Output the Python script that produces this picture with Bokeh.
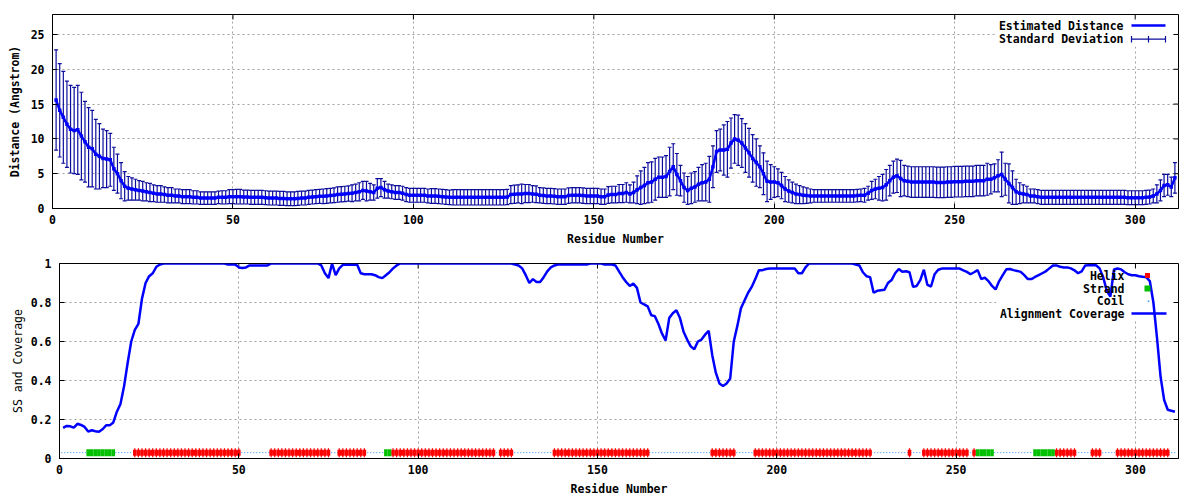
from bokeh.plotting import figure
from bokeh.models import Range1d, FixedTicker, Label, BoxAnnotation
from bokeh.embed import file_html
from bokeh.resources import INLINE

# ---------------- data ----------------
residues = list(range(1, 312))

distance = [
    15.6, 14.1, 13.1, 12.1, 11.4, 11.2, 11.3, 10.4, 9.6, 8.8,
    8.6, 7.8, 7.5, 7.2, 7.1, 7.0, 5.7, 5.0, 4.0, 3.2,
    2.9, 2.8, 2.7, 2.6, 2.5, 2.4, 2.3, 2.2, 2.1, 2.1,
    2.0, 1.9, 1.9, 1.8, 1.8, 1.7, 1.7, 1.7, 1.6, 1.6,
    1.5, 1.5, 1.5, 1.5, 1.5, 1.6, 1.6, 1.6, 1.7, 1.7,
    1.7, 1.7, 1.65, 1.65, 1.6, 1.6, 1.6, 1.6, 1.55, 1.5,
    1.5, 1.5, 1.45, 1.45, 1.4, 1.4, 1.4, 1.45, 1.5, 1.5,
    1.6, 1.65, 1.7, 1.75, 1.75, 1.8, 1.85, 1.9, 2.0, 2.05,
    2.1, 2.15, 2.2, 2.3, 2.4, 2.6, 2.5, 2.4, 2.3, 2.9,
    3.0, 2.7, 2.5, 2.4, 2.3, 2.3, 2.2, 2.0, 1.9, 1.9,
    1.9, 1.9, 1.9, 1.8, 1.8, 1.8, 1.75, 1.7, 1.65, 1.6,
    1.6, 1.6, 1.6, 1.6, 1.6, 1.6, 1.6, 1.6, 1.6, 1.6,
    1.6, 1.6, 1.6, 1.6, 1.6, 1.65, 2.0, 2.05, 2.1, 2.1,
    2.15, 2.15, 2.1, 2.05, 1.9, 1.85, 1.8, 1.8, 1.75, 1.7,
    1.7, 1.7, 1.85, 1.9, 1.9, 1.9, 1.85, 1.8, 1.8, 1.8,
    1.8, 1.7, 1.7, 1.95, 2.0, 2.0, 2.15, 2.15, 2.3, 2.1,
    2.3, 2.7, 3.0, 3.3, 3.7, 3.8, 4.2, 4.5, 4.5, 4.6,
    5.3, 6.0, 4.9, 4.0, 3.0, 2.6, 2.9, 3.1, 3.5, 3.7,
    3.8, 4.2, 6.0, 8.2, 8.4, 8.4, 8.5, 9.4, 10.0, 9.8,
    9.4, 8.7, 8.0, 7.2, 6.6, 6.0, 5.0, 3.9, 3.8, 3.8,
    3.7, 3.3, 2.8, 2.5, 2.3, 2.1, 2.0, 1.9, 1.85, 1.8,
    1.8, 1.8, 1.8, 1.8, 1.8, 1.8, 1.8, 1.8, 1.8, 1.8,
    1.8, 1.8, 1.85, 1.9, 1.9, 2.2, 2.6, 2.8, 2.9, 3.0,
    3.4, 4.0, 4.5, 4.7, 4.3, 4.0, 3.9, 3.8, 3.8, 3.8,
    3.8, 3.8, 3.8, 3.8, 3.75, 3.75, 3.75, 3.8, 3.8, 3.85,
    3.85, 3.85, 3.9, 3.9, 3.9, 4.0, 4.0, 4.0, 4.2, 4.2,
    4.4, 4.7, 4.9, 4.2, 3.6, 3.0, 2.4, 2.2, 2.1, 2.0,
    1.8, 1.8, 1.7, 1.6, 1.6, 1.6, 1.6, 1.6, 1.6, 1.6,
    1.6, 1.6, 1.6, 1.6, 1.6, 1.6, 1.6, 1.6, 1.6, 1.6,
    1.6, 1.6, 1.6, 1.6, 1.6, 1.6, 1.6, 1.55, 1.55, 1.55,
    1.55, 1.55, 1.6, 1.65, 1.8, 2.1, 2.6, 3.3, 3.4, 3.1, 4.4,
]

std_dev = [
    7.2, 6.7, 6.6, 6.2, 6.3, 6.2, 6.4, 6.3, 5.8, 5.7,
    5.5, 5.0, 4.7, 4.2, 4.1, 3.8, 3.1, 2.8, 2.6, 2.1,
    1.7, 1.6, 1.5, 1.4, 1.4, 1.3, 1.3, 1.2, 1.2, 1.2,
    1.1, 1.1, 1.1, 1.0, 1.0, 1.0, 1.0, 1.0, 0.95, 0.95,
    0.9, 0.9, 0.9, 0.9, 0.9, 0.9, 0.95, 0.95, 1.0, 1.0,
    1.05, 1.05, 1.0, 1.0, 1.0, 1.0, 1.0, 1.0, 1.0, 1.0,
    1.0, 1.0, 1.0, 1.0, 1.0, 1.0, 1.0, 1.0, 1.0, 1.0,
    1.0, 1.0, 1.0, 1.0, 1.05, 1.05, 1.05, 1.05, 1.1, 1.1,
    1.1, 1.1, 1.2, 1.2, 1.3, 1.3, 1.4, 1.2, 1.1, 1.4,
    1.3, 1.2, 1.0, 1.0, 1.0, 1.0, 1.0, 1.0, 1.0, 1.0,
    1.0, 1.0, 1.0, 1.0, 1.05, 1.05, 1.05, 1.05, 1.05, 1.05,
    1.1, 1.1, 1.1, 1.1, 1.1, 1.1, 1.1, 1.1, 1.1, 1.1,
    1.1, 1.1, 1.1, 1.1, 1.1, 1.1, 1.3, 1.3, 1.3, 1.4,
    1.3, 1.3, 1.2, 1.2, 1.1, 1.1, 1.1, 1.1, 1.1, 1.1,
    1.1, 1.1, 1.1, 1.1, 1.1, 1.1, 1.1, 1.1, 1.1, 1.1,
    1.1, 1.1, 1.1, 1.2, 1.2, 1.2, 1.3, 1.3, 1.4, 1.3,
    1.5, 2.0, 2.4, 2.6, 2.9, 2.9, 3.0, 2.9, 2.9, 3.0,
    3.5, 3.3, 3.0, 2.2, 2.1, 2.0, 2.2, 2.2, 2.4, 2.6,
    2.7, 3.3, 3.0, 3.0, 3.0, 3.6, 4.0, 3.6, 3.5, 3.6,
    3.5, 3.5, 3.5, 3.4, 3.4, 3.0, 3.0, 2.9, 2.5, 2.2,
    2.0, 1.9, 1.8, 1.6, 1.5, 1.4, 1.3, 1.2, 1.1, 1.0,
    0.9, 0.9, 0.9, 0.9, 0.9, 0.9, 0.9, 0.9, 0.9, 0.9,
    0.9, 0.9, 0.9, 0.9, 1.0, 1.0, 1.3, 1.4, 1.7, 1.9,
    2.2, 2.2, 2.3, 2.4, 2.6, 2.2, 2.2, 2.2, 2.2, 2.2,
    2.2, 2.2, 2.2, 2.2, 2.2, 2.2, 2.2, 2.2, 2.2, 2.2,
    2.2, 2.2, 2.2, 2.2, 2.2, 2.2, 2.2, 2.2, 2.3, 2.1,
    2.0, 2.3, 3.2, 2.3, 2.8, 2.4, 1.8, 1.5, 1.3, 1.2,
    1.0, 1.0, 1.0, 1.0, 1.0, 1.0, 1.0, 1.0, 1.0, 1.0,
    1.0, 1.0, 1.0, 1.0, 1.0, 1.0, 1.0, 1.0, 1.0, 1.0,
    1.0, 1.0, 1.0, 1.0, 1.0, 1.0, 1.0, 1.0, 1.0, 1.0,
    1.0, 1.0, 1.0, 1.0, 1.0, 1.3, 1.5, 1.6, 1.5, 1.4, 2.2,
]

coverage = [
    0.157, 0.167, 0.165, 0.158, 0.178, 0.172, 0.162, 0.138, 0.145, 0.140,
    0.137, 0.150, 0.170, 0.170, 0.185, 0.240, 0.280, 0.370, 0.490, 0.600,
    0.660, 0.690, 0.820, 0.900, 0.935, 0.950, 0.983, 0.995, 1.0, 1.0,
    1.0, 1.0, 1.0, 1.0, 1.0, 1.0, 1.0, 1.0, 1.0, 1.0,
    1.0, 1.0, 1.0, 1.0, 1.0, 1.0, 0.995, 0.995, 0.995, 0.980,
    0.977, 0.980, 0.990, 0.990, 0.990, 0.990, 0.990, 0.990, 1.0, 1.0,
    1.0, 1.0, 1.0, 1.0, 1.0, 1.0, 1.0, 1.0, 1.0, 1.0,
    1.0, 1.0, 0.990, 0.950, 0.925, 1.0, 0.940, 0.975, 0.993, 0.993,
    0.993, 0.993, 0.993, 0.950, 0.945, 0.945, 0.945, 0.940, 0.930, 0.925,
    0.940, 0.955, 0.975, 0.990, 1.0, 1.0, 1.0, 1.0, 1.0, 1.0,
    1.0, 1.0, 1.0, 1.0, 1.0, 1.0, 1.0, 1.0, 1.0, 1.0,
    1.0, 1.0, 1.0, 1.0, 1.0, 1.0, 1.0, 1.0, 1.0, 1.0,
    1.0, 1.0, 1.0, 1.0, 1.0, 1.0, 0.995, 0.990, 0.975, 0.940,
    0.900, 0.920, 0.905, 0.905, 0.930, 0.960, 0.980, 0.990, 0.995, 0.995,
    0.995, 0.995, 0.995, 0.995, 0.995, 0.995, 0.995, 1.0, 1.0, 1.0,
    1.0, 0.995, 0.995, 0.995, 0.990, 0.960, 0.930, 0.905, 0.885, 0.897,
    0.875, 0.800, 0.790, 0.780, 0.735, 0.730, 0.690, 0.640, 0.605, 0.720,
    0.745, 0.760, 0.720, 0.650, 0.610, 0.575, 0.560, 0.600, 0.610, 0.635,
    0.655, 0.530, 0.440, 0.385, 0.372, 0.385, 0.410, 0.600, 0.680, 0.770,
    0.810, 0.850, 0.880, 0.920, 0.965, 0.966, 0.972, 0.974, 0.974, 0.974,
    0.974, 0.974, 0.974, 0.974, 0.974, 0.950, 0.950, 0.980, 1.0, 1.0,
    1.0, 1.0, 1.0, 1.0, 1.0, 1.0, 1.0, 1.0, 1.0, 1.0,
    1.0, 0.995, 0.990, 0.955, 0.935, 0.930, 0.850, 0.860, 0.863, 0.865,
    0.900, 0.915, 0.950, 0.972, 0.958, 0.960, 0.955, 0.880, 0.885, 0.915,
    0.968, 0.890, 0.882, 0.945, 0.968, 0.974, 0.974, 0.974, 0.974, 0.974,
    0.974, 0.965, 0.957, 0.945, 0.955, 0.966, 0.920, 0.928, 0.910, 0.885,
    0.867, 0.910, 0.940, 0.970, 0.972, 0.966, 0.962, 0.957, 0.940, 0.920,
    0.920, 0.931, 0.940, 0.950, 0.960, 0.975, 0.990, 0.990, 0.983, 0.980,
    0.980, 0.975, 0.965, 0.950, 0.960, 0.990, 0.991, 0.991, 0.991, 0.975,
    0.930, 0.860, 0.830, 0.969, 0.974, 0.970, 0.955, 0.945, 0.940, 0.940,
    0.935, 0.932, 0.930, 0.910, 0.800, 0.620, 0.420, 0.300, 0.250, 0.245, 0.240,
]

# secondary structure as runs: (type, length); H helix, E strand, C coil
ss_runs = [
    ("C", 7), ("E", 8), ("C", 5), ("H", 30), ("C", 8), ("H", 17), ("C", 2),
    ("H", 8), ("C", 5), ("E", 2), ("H", 29), ("C", 1), ("H", 4), ("C", 11),
    ("H", 27), ("C", 17), ("H", 7), ("C", 5), ("H", 33), ("C", 10), ("H", 1),
    ("C", 3), ("H", 13), ("C", 1), ("H", 1), ("E", 5), ("C", 11), ("E", 6),
    ("H", 6), ("C", 4), ("H", 3), ("C", 4), ("H", 15), ("C", 2),
]
ss_level = 0.03

x_ticks = [0, 50, 100, 150, 200, 250, 300]
dist_ticks = [0, 5, 10, 15, 20, 25]
cov_ticks = [0, 0.2, 0.4, 0.6, 0.8, 1]
cov_tick_labels = ["0", "0.2", "0.4", "0.6", "0.8", "1"]
x_max = 312
dist_max = 27.87

# ---------------- style ----------------
FONT = "DejaVu Sans Mono"
FS = "11.5px"
ERR = "#0c0c9c"
BLUE = "#0000ff"
GRID = "#a0a0a0"
W = 1200
TICK = 5


def make_fig(height, left, top, bottom, y_range, yticks, ylabel, ylabel_style, ylab_standoff,
             fw, fh, ymax, overrides=None):
    p = figure(width=W, height=height, x_range=Range1d(0, x_max), y_range=y_range,
               output_backend="svg", toolbar_location=None,
               min_border_left=left, min_border_right=22,
               min_border_top=top, min_border_bottom=bottom)
    p.background_fill_color = "white"
    p.border_fill_color = "white"
    p.outline_line_color = "black"
    p.outline_line_width = 1
    p.outline_line_alpha = 1
    xa = p.xaxis[0]
    ya = p.yaxis[0]
    xa.ticker = FixedTicker(ticks=x_ticks)
    ya.ticker = FixedTicker(ticks=yticks)
    for ax in (xa, ya):
        ax.major_tick_in = TICK
        ax.major_tick_out = 0
        ax.minor_tick_line_color = None
        ax.major_tick_line_color = "black"
        ax.axis_line_color = "black"
        ax.major_label_text_font = FONT
        ax.major_label_text_font_size = FS
        ax.major_label_text_font_style = "bold"
        ax.major_label_text_color = "black"
    xa.major_label_standoff = 6
    xa.axis_label = "Residue Number"
    xa.axis_label_standoff = 5
    ya.major_label_standoff = 8
    ya.axis_label = ylabel
    ya.axis_label_standoff = ylab_standoff
    if overrides:
        ya.major_label_overrides = overrides
    for ax, style in ((xa, "bold"), (ya, ylabel_style)):
        ax.axis_label_text_font = FONT
        ax.axis_label_text_font_size = FS
        ax.axis_label_text_font_style = style
        ax.axis_label_text_color = "black"
    p.xgrid.ticker = FixedTicker(ticks=x_ticks)
    p.ygrid.ticker = FixedTicker(ticks=yticks)
    for g in (p.xgrid, p.ygrid):
        g.grid_line_color = GRID
        g.grid_line_dash = "2 3"
        g.grid_line_width = 1
    # mirrored inward ticks on the top and right frame edges
    dy = TICK / fh * (ymax - y_range.start)
    dx = TICK / fw * x_max
    p.segment(x0=x_ticks, y0=[ymax] * len(x_ticks), x1=x_ticks, y1=[ymax - dy] * len(x_ticks),
              line_color="black", line_width=1)
    p.segment(x0=[x_max] * len(yticks), y0=yticks, x1=[x_max - dx] * len(yticks), y1=yticks,
              line_color="black", line_width=1)
    return p


def label(p, x, y, text):
    p.add_layout(Label(x=x, y=y, text=text, text_align="right", text_baseline="middle",
                       text_font=FONT, text_font_size=FS, text_font_style="bold",
                       text_color="black"))


# ---------------- top: distance ----------------
TFW, TFH = 1126, 194
p1 = make_fig(250, 52, 14, 42, Range1d(0, dist_max), dist_ticks, "Distance (Angstrom)", "bold", 6,
              TFW, TFH, dist_max)


def tx(px):
    return px / TFW * x_max


def ty(py):
    return dist_max - py / TFH * dist_max


# legend background (hides grid lines like the original key box)
p1.add_layout(BoxAnnotation(left=tx(943), right=tx(1121), top=ty(2), bottom=ty(32),
                            fill_color="white", fill_alpha=1, line_color=None, level="underlay"))

lower = [d - s for d, s in zip(distance, std_dev)]
upper = [d + s for d, s in zip(distance, std_dev)]
cap = 0.55
p1.segment(x0=residues, y0=lower, x1=residues, y1=upper, line_color=ERR, line_width=1.2)
p1.segment(x0=[r - cap for r in residues], y0=upper, x1=[r + cap for r in residues], y1=upper,
           line_color=ERR, line_width=1.2)
p1.segment(x0=[r - cap for r in residues], y0=lower, x1=[r + cap for r in residues], y1=lower,
           line_color=ERR, line_width=1.2)
p1.line(residues, distance, line_color=BLUE, line_width=2.5)
p1.scatter(residues, distance, marker="square", size=3.5, fill_color=BLUE, line_color=None)

# legend (text left, sample right, as in the original)
label(p1, tx(1071), ty(11), "Estimated Distance")
p1.line([tx(1079), tx(1113)], [ty(11), ty(11)], line_color=BLUE, line_width=2.5)
label(p1, tx(1071), ty(24.7), "Standard Deviation")
p1.line([tx(1079), tx(1113)], [ty(24.7), ty(24.7)], line_color=ERR, line_width=1.2)
p1.segment(x0=[tx(1079), tx(1096), tx(1113)], y0=[ty(21.5)] * 3,
           x1=[tx(1079), tx(1096), tx(1113)], y1=[ty(28)] * 3,
           line_color=ERR, line_width=1.2)

# ---------------- bottom: SS and coverage ----------------
BFW, BFH = 1119, 195
p2 = make_fig(250, 59, 13, 42, Range1d(0, 1), cov_ticks, "SS and Coverage", "normal", 3,
              BFW, BFH, 1, overrides={t: s for t, s in zip(cov_ticks, cov_tick_labels)})


def bx(px):
    return px / BFW * x_max


def by(py):
    return 1 - py / BFH


p2.add_layout(BoxAnnotation(left=bx(937), right=bx(1112), top=by(3), bottom=by(57),
                            fill_color="white", fill_alpha=1, line_color=None, level="underlay"))

# expand SS runs into per-residue lists
ss = []
for t, n in ss_runs:
    ss.extend([t] * n)
helix_x = [r for r, t in zip(residues, ss) if t == "H"]
strand_x = [r for r, t in zip(residues, ss) if t == "E"]

p2.line([residues[0] - 0.5, residues[-1] + 0.5], [ss_level, ss_level],
        line_color="#2a8cff", line_width=1, line_dash="1 2")
p2.rect(x=helix_x, y=[ss_level] * len(helix_x), width=1.0, height=6, height_units="screen",
        fill_color="#ff0000", line_color=None)
p2.rect(x=helix_x, y=[ss_level] * len(helix_x), width=0.35, height=9, height_units="screen",
        fill_color="#ff0000", line_color=None)
p2.rect(x=strand_x, y=[ss_level] * len(strand_x), width=1.0, height=7, height_units="screen",
        fill_color="#00c000", line_color=None)
p2.line(residues, coverage, line_color=BLUE, line_width=2.5)

# legend
label(p2, bx(1065), by(12), "Helix")
p2.scatter([bx(1088)], [by(12)], marker="square", size=5, fill_color="#ff0000", line_color=None)
label(p2, bx(1065), by(25), "Strand")
p2.scatter([bx(1088)], [by(25)], marker="square", size=6, fill_color="#00c000", line_color=None)
label(p2, bx(1065), by(37.7), "Coil")
p2.scatter([bx(1089)], [by(37.7)], marker="square", size=1.5, fill_color="#2a8cff", line_color=None)
label(p2, bx(1065), by(50), "Alignment Coverage")
p2.line([bx(1072), bx(1107)], [by(50), by(50)], line_color=BLUE, line_width=2.5)

# two independent roots, stacked, so each frame keeps its own left border
open("out.html", "w").write(file_html([p1, p2], INLINE))
